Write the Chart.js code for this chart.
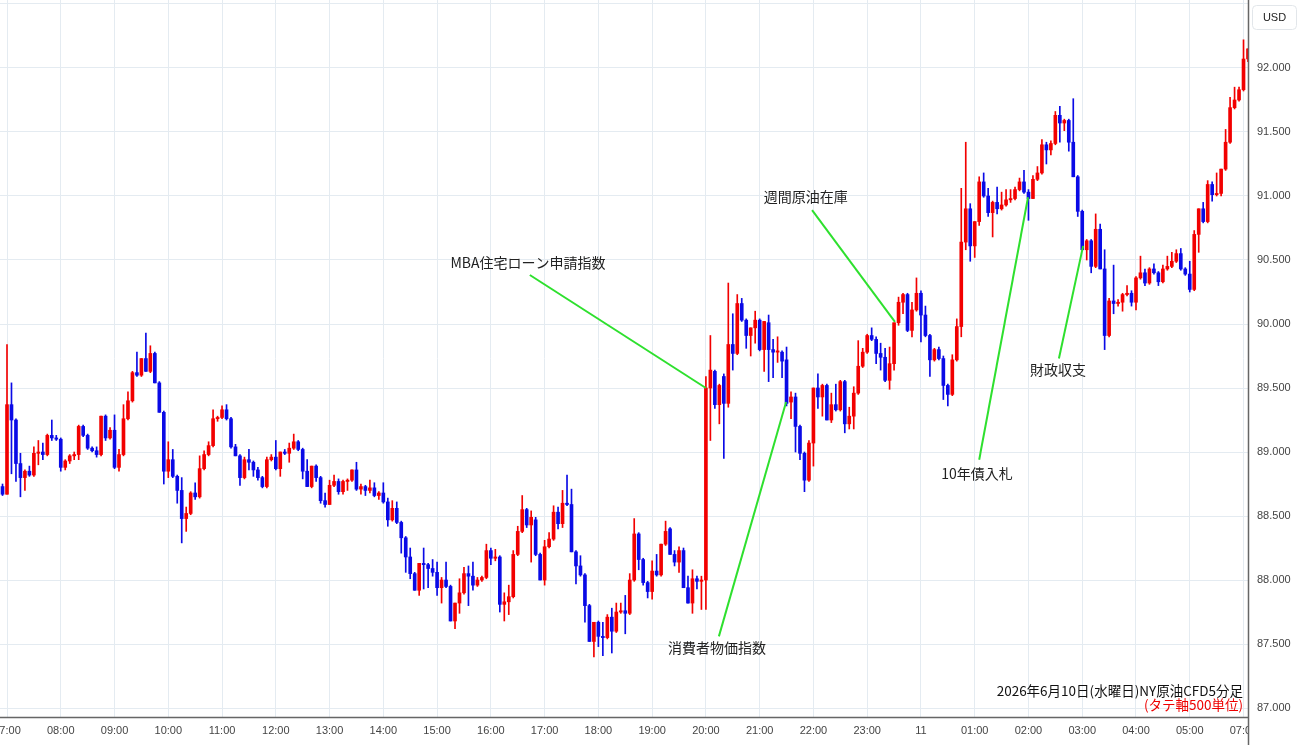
<!DOCTYPE html>
<html><head><meta charset="utf-8">
<script src="https://cdn.jsdelivr.net/npm/chart.js@4.4.1/dist/chart.umd.min.js"></script>
<style>html,body{margin:0;padding:0;background:#fff;overflow:hidden}</style>
</head><body>
<canvas id="c" width="1300" height="745"></canvas>
<script>
// 5-minute candles, 06:55 (10 Jun) .. 06:05 (11 Jun)
const open = [88.73,88.67,89.37,89.25,88.91,88.80,88.85,88.82,88.99,89.00,88.98,89.13,89.11,89.10,88.88,88.93,88.97,88.98,89.20,89.13,89.03,89.01,88.98,89.28,89.11,89.17,88.88,88.98,89.26,89.40,89.62,89.60,89.73,89.63,89.77,89.54,89.31,88.85,88.94,88.81,88.70,88.48,88.52,88.68,88.65,88.87,88.98,89.05,89.26,89.27,89.33,89.26,89.04,88.97,88.80,88.94,88.92,88.86,88.80,88.73,88.94,88.96,88.87,89.00,88.99,89.03,89.08,89.02,88.85,88.73,88.89,88.80,88.62,88.59,88.74,88.77,88.69,88.77,88.78,88.86,88.71,88.73,88.70,88.72,88.66,88.68,88.61,88.47,88.56,88.45,88.33,88.18,88.05,87.92,88.13,88.12,88.09,88.06,87.94,88.00,87.95,87.68,87.82,87.90,88.05,88.03,87.96,88.00,88.02,88.23,88.17,88.18,87.81,87.83,87.87,88.20,88.38,88.55,88.43,88.47,88.20,88.00,88.26,88.32,88.53,88.44,88.60,88.59,88.22,88.11,88.04,87.80,87.52,87.67,87.56,87.55,87.71,87.60,87.75,87.76,87.74,88.00,88.36,88.16,87.98,87.91,88.07,88.04,88.28,88.40,88.20,88.14,88.23,87.94,87.82,88.01,87.99,88.00,89.50,89.63,89.37,89.59,89.38,89.84,89.77,90.16,90.03,89.91,89.97,90.03,89.80,90.01,89.80,89.78,89.78,89.72,89.39,89.43,89.20,88.99,88.78,89.07,89.50,89.43,89.52,89.25,89.37,89.33,89.55,89.22,89.28,89.46,89.67,89.78,89.91,89.88,89.77,89.74,89.56,89.69,90.01,90.17,90.23,89.95,90.11,90.24,90.07,89.91,89.72,89.80,89.73,89.52,89.45,89.72,89.98,90.64,90.90,90.61,90.80,91.11,91.00,90.87,90.95,90.90,90.93,90.97,90.98,91.05,91.11,91.03,90.98,91.13,91.18,91.40,91.36,91.41,91.63,91.57,91.59,91.42,91.15,90.88,90.58,90.65,90.45,90.74,90.43,89.91,90.18,90.16,90.17,90.23,90.24,90.17,90.36,90.40,90.32,90.43,90.40,90.33,90.43,90.45,90.49,90.55,90.43,90.39,90.27,90.70,90.90,90.80,91.09,91.01,91.02,91.21,91.42,91.69,91.75,91.83,92.07];
const high = [88.75,89.84,89.54,89.26,88.99,88.86,88.89,89.04,89.09,89.07,89.14,89.25,89.13,89.11,88.94,88.98,89.00,89.21,89.21,89.14,89.04,89.04,89.28,89.29,89.19,89.29,89.02,89.37,89.47,89.63,89.78,89.73,89.93,89.83,89.78,89.55,89.32,89.08,89.02,88.82,88.80,88.57,88.69,88.76,88.97,89.01,89.08,89.33,89.28,89.36,89.37,89.27,89.06,88.98,88.96,89.02,88.93,88.88,88.81,88.96,88.98,89.09,89.00,89.02,89.07,89.14,89.09,89.03,88.94,88.89,88.90,88.81,88.68,88.78,88.82,88.79,88.78,88.79,88.86,88.92,88.75,88.74,88.78,88.76,88.69,88.76,88.64,88.62,88.61,88.46,88.34,88.25,88.06,88.13,88.25,88.13,88.16,88.14,88.02,88.14,87.96,87.82,88.01,88.10,88.11,88.14,88.02,88.03,88.28,88.25,88.24,88.19,87.90,87.96,88.23,88.42,88.66,88.56,88.54,88.49,88.21,88.31,88.37,88.58,88.57,88.70,88.82,88.71,88.23,88.19,88.05,87.81,87.67,87.68,87.67,87.73,87.78,87.82,87.82,87.88,88.05,88.48,88.37,88.17,87.99,88.15,88.20,88.28,88.46,88.41,88.23,88.26,88.25,88.03,88.08,88.03,88.03,89.59,89.91,89.64,89.53,89.61,90.32,90.08,90.23,90.20,90.04,89.97,90.10,90.04,90.02,90.07,89.88,89.90,89.79,89.82,89.47,89.46,89.21,89.00,89.09,89.50,89.61,89.53,89.53,89.46,89.53,89.56,89.56,89.35,89.51,89.87,89.81,89.92,89.97,89.90,89.85,89.81,89.82,90.01,90.21,90.24,90.24,90.17,90.36,90.26,90.14,89.92,89.81,89.82,89.75,89.53,89.76,90.04,91.06,91.42,90.94,90.80,91.15,91.18,91.06,90.96,91.07,91.03,91.05,91.05,91.07,91.14,91.20,91.05,91.16,91.23,91.44,91.42,91.43,91.66,91.70,91.60,91.60,91.76,91.16,90.89,90.66,90.66,90.86,90.78,90.58,90.20,90.46,90.19,90.24,90.30,90.26,90.37,90.53,90.43,90.44,90.47,90.41,90.46,90.53,90.56,90.58,90.59,90.44,90.49,90.73,90.90,90.95,91.12,91.11,91.18,91.21,91.52,91.77,91.85,91.85,92.22,92.15];
const low = [88.66,88.67,88.83,88.77,88.65,88.70,88.81,88.81,88.90,88.94,88.97,89.09,89.09,88.85,88.86,88.91,88.94,88.94,89.12,89.02,89.00,88.96,88.97,89.09,89.10,88.87,88.85,88.97,89.25,89.39,89.59,89.59,89.63,89.62,89.54,89.31,88.75,88.80,88.80,88.60,88.29,88.38,88.51,88.63,88.64,88.86,88.97,89.04,89.24,89.26,89.25,89.03,88.97,88.74,88.79,88.86,88.81,88.78,88.72,88.72,88.93,88.86,88.81,88.98,88.92,89.02,89.01,88.79,88.73,88.72,88.77,88.60,88.57,88.59,88.73,88.67,88.67,88.70,88.77,88.70,88.67,88.66,88.68,88.65,88.63,88.60,88.42,88.46,88.44,88.21,88.06,88.01,87.92,87.88,87.93,87.94,88.03,87.88,87.82,87.94,87.68,87.62,87.74,87.89,87.80,87.92,87.95,87.99,88.01,88.12,88.15,87.75,87.68,87.73,87.86,88.19,88.37,88.41,88.14,88.19,88.00,87.96,88.25,88.31,88.40,88.41,88.58,88.22,87.97,88.03,87.67,87.52,87.40,87.48,87.41,87.54,87.43,87.59,87.74,87.58,87.73,87.99,88.08,87.96,87.86,87.85,88.03,88.03,88.27,88.20,88.11,88.06,87.94,87.82,87.74,87.93,87.77,87.77,89.09,89.34,89.22,88.95,89.35,89.64,89.76,90.02,89.81,89.75,89.85,89.79,89.63,89.55,89.58,89.70,89.58,89.36,89.26,89.00,88.94,88.69,88.77,88.89,89.34,89.28,89.25,89.23,89.32,89.32,89.15,89.18,89.18,89.45,89.66,89.77,89.87,89.69,89.64,89.55,89.49,89.64,89.99,90.08,89.94,89.90,90.10,89.86,89.90,89.59,89.71,89.72,89.41,89.36,89.44,89.71,89.90,90.58,90.49,90.52,90.77,90.99,90.84,90.68,90.86,90.89,90.92,90.95,90.97,91.04,91.02,90.81,90.98,91.12,91.17,91.25,91.32,91.40,91.42,91.51,91.35,91.15,90.84,90.58,90.50,90.40,90.44,90.43,89.80,89.90,90.08,90.14,90.10,90.22,90.14,90.11,90.35,90.30,90.31,90.39,90.30,90.32,90.42,90.44,90.48,90.42,90.38,90.25,90.26,90.56,90.79,90.79,90.96,91.00,91.00,91.20,91.41,91.68,91.74,91.82,92.05];
const close = [88.67,89.37,89.25,88.91,88.80,88.85,88.82,88.99,89.00,88.98,89.13,89.11,89.10,88.88,88.93,88.97,88.98,89.20,89.13,89.03,89.01,88.98,89.28,89.11,89.17,88.88,88.98,89.26,89.40,89.62,89.60,89.73,89.63,89.77,89.54,89.31,88.85,88.94,88.81,88.70,88.48,88.52,88.68,88.65,88.87,88.98,89.05,89.26,89.27,89.33,89.26,89.04,88.97,88.80,88.94,88.92,88.86,88.80,88.73,88.94,88.96,88.87,89.00,88.99,89.03,89.08,89.02,88.85,88.73,88.89,88.80,88.62,88.59,88.74,88.77,88.69,88.77,88.78,88.86,88.71,88.73,88.70,88.72,88.66,88.68,88.61,88.47,88.56,88.45,88.33,88.18,88.05,87.92,88.13,88.12,88.09,88.06,87.94,88.00,87.95,87.68,87.82,87.90,88.05,88.03,87.96,88.00,88.02,88.23,88.17,88.18,87.81,87.83,87.87,88.20,88.38,88.55,88.43,88.49,88.20,88.00,88.26,88.32,88.53,88.44,88.60,88.59,88.22,88.11,88.04,87.80,87.52,87.67,87.56,87.55,87.71,87.60,87.75,87.76,87.74,88.00,88.36,88.16,87.98,87.91,88.07,88.04,88.28,88.38,88.20,88.14,88.23,87.94,87.82,88.01,87.99,88.00,89.50,89.64,89.37,89.52,89.38,89.84,89.77,90.16,90.03,89.91,89.97,90.03,89.80,90.02,89.80,89.78,89.79,89.71,89.38,89.43,89.20,88.99,88.78,89.07,89.50,89.43,89.52,89.25,89.37,89.33,89.55,89.22,89.28,89.46,89.67,89.78,89.91,89.88,89.77,89.74,89.56,89.69,90.01,90.17,90.23,89.95,90.11,90.24,90.07,89.91,89.72,89.80,89.73,89.52,89.45,89.72,89.98,90.64,90.90,90.61,90.80,91.11,91.00,90.87,90.95,90.90,90.93,90.97,90.98,91.05,91.11,91.03,90.98,91.13,91.18,91.40,91.36,91.41,91.63,91.57,91.59,91.42,91.15,90.88,90.58,90.65,90.45,90.74,90.43,89.91,90.18,90.16,90.17,90.23,90.24,90.17,90.36,90.40,90.32,90.43,90.40,90.33,90.43,90.45,90.49,90.55,90.43,90.39,90.27,90.70,90.90,90.80,91.09,91.01,91.02,91.21,91.42,91.69,91.75,91.83,92.07,92.15];
// hour tick labels (one every 12 candles, starting at candle index 1 = 07:00)
const hourLabels = ["07:00","08:00","09:00","10:00","11:00","12:00","13:00","14:00","15:00","16:00","17:00","18:00","19:00","20:00","21:00","22:00","23:00","11","01:00","02:00","03:00","04:00","05:00","07:00"];
const priceTicks = [87.0,87.5,88.0,88.5,89.0,89.5,90.0,90.5,91.0,91.5,92.0,92.5];
// event labels: text, label centre (candle index, price), leader line from -> to
const eventText = ["MBA住宅ローン申請指数","週間原油在庫","消費者物価指数","10年債入札","財政収支"];
const eventLabelAt = [[117.3,90.477],[179.3,90.992],[159.5,87.469],[217.5,88.828],[235.6,89.64]];
const eventLineFrom = [[117.7,90.383],[180.7,90.89],[159.9,87.56],[218.0,88.94],[235.8,89.73]];
const eventLineTo = [[157.0,89.5],[199.2,90.016],[174.9,89.39],[228.9,90.99],[241.2,90.61]];
const titleText = "2026年6月10日(水曜日)NY原油CFD5分足";
const noteText = "(タテ軸500単位)";

const xs = open.map((_, i) => i);
const UP = '#f20000', DOWN = '#0a0ae6';
const colors = xs.map(i => close[i] >= open[i] ? UP : DOWN);
const bodies = xs.map(i => ({x: i, y: [open[i], close[i]]}));
const wicks = xs.map(i => ({x: i, y: [low[i], high[i]]}));
const hourIdx = hourLabels.map((_, k) => 1 + 12 * k);

const JP = "'Noto Sans CJK JP','Noto Sans',sans-serif";
const LAT = "'Liberation Sans',Arial,sans-serif";

const overlay = {
  id: 'overlay',
  afterDatasetsDraw(chart) {
    const {ctx, scales: {x, y}} = chart;
    ctx.save();
    ctx.strokeStyle = '#2ee02e';
    ctx.lineWidth = 2;
    for (let k = 0; k < eventText.length; k++) {
      ctx.beginPath();
      ctx.moveTo(x.getPixelForValue(eventLineFrom[k][0]), y.getPixelForValue(eventLineFrom[k][1]));
      ctx.lineTo(x.getPixelForValue(eventLineTo[k][0]), y.getPixelForValue(eventLineTo[k][1]));
      ctx.stroke();
    }
    ctx.font = "14px " + JP;
    ctx.fillStyle = '#222';
    ctx.textAlign = 'center';
    ctx.textBaseline = 'middle';
    for (let k = 0; k < eventText.length; k++) {
      ctx.fillText(eventText[k], x.getPixelForValue(eventLabelAt[k][0]), y.getPixelForValue(eventLabelAt[k][1]));
    }
    ctx.restore();
  },
  afterDraw(chart) {
    const {ctx, chartArea: a, scales: {x}} = chart;
    ctx.save();
    ctx.beginPath();
    ctx.rect(0, a.bottom, a.right, chart.height - a.bottom);
    ctx.clip();
    ctx.font = "11px " + LAT;
    ctx.fillStyle = '#444';
    ctx.textAlign = 'center';
    ctx.textBaseline = 'middle';
    hourIdx.forEach((v, k) => ctx.fillText(hourLabels[k], x.getPixelForValue(v), a.bottom + 14));
    ctx.restore();
    ctx.save();
    ctx.strokeStyle = '#666';
    ctx.lineWidth = 1.5;
    ctx.beginPath();
    ctx.moveTo(0, a.bottom + 0.5); ctx.lineTo(a.right, a.bottom + 0.5);
    ctx.moveTo(a.right + 0.5, 0); ctx.lineTo(a.right + 0.5, chart.height);
    ctx.stroke();
    ctx.fillStyle = '#fff';
    ctx.strokeStyle = '#e2e6ea';
    ctx.lineWidth = 1;
    ctx.beginPath();
    ctx.roundRect(1252.5, 5.5, 44, 24, 4);
    ctx.fill(); ctx.stroke();
    ctx.fillStyle = '#222';
    ctx.font = "11px " + LAT;
    ctx.textAlign = 'center';
    ctx.textBaseline = 'middle';
    ctx.fillText('USD', 1274.5, 17.5);
    ctx.textAlign = 'right';
    ctx.font = "13.5px " + JP;
    ctx.fillStyle = '#111';
    ctx.fillText(titleText, a.right - 5, 691);
    ctx.fillStyle = '#ee0000';
    ctx.fillText(noteText, a.right - 5, 705);
    ctx.restore();
  }
};

new Chart(document.getElementById('c'), {
  type: 'bar',
  data: {
    datasets: [
      {data: bodies, backgroundColor: colors, barThickness: 3, minBarLength: 1, grouped: false, clip: 0, order: 0},
      {data: wicks, backgroundColor: colors, barThickness: 1, grouped: false, clip: 0, order: 1}
    ]
  },
  options: {
    responsive: false,
    animation: false,
    devicePixelRatio: 1,
    layout: {padding: 0},
    plugins: {legend: {display: false}, tooltip: {enabled: false}},
    scales: {
      x: {
        type: 'linear', min: -0.5625, max: 278.0, offset: false,
        grid: {color: '#e4ebf1', drawTicks: false, lineWidth: 1, offset: false},
        border: {display: false},
        ticks: {display: false},
        afterBuildTicks: s => { s.ticks = hourIdx.map(v => ({value: v})); },
        afterFit: s => { s.height = 28; s.paddingLeft = 0; s.paddingRight = 0; }
      },
      y: {
        position: 'right', min: 86.93, max: 92.531,
        grid: {color: '#e4ebf1', drawTicks: false, lineWidth: 1},
        border: {display: false},
        afterBuildTicks: s => { s.ticks = priceTicks.map(v => ({value: v})); },
        ticks: {
          padding: 9, color: '#444', font: {size: 11, family: LAT},
          callback: v => v > 92.1 ? '' : Number(v).toFixed(3)
        },
        afterFit: s => { s.width = 52; s.paddingTop = 0; s.paddingBottom = 0; }
      }
    }
  },
  plugins: [overlay]
});
</script>
</body></html>
